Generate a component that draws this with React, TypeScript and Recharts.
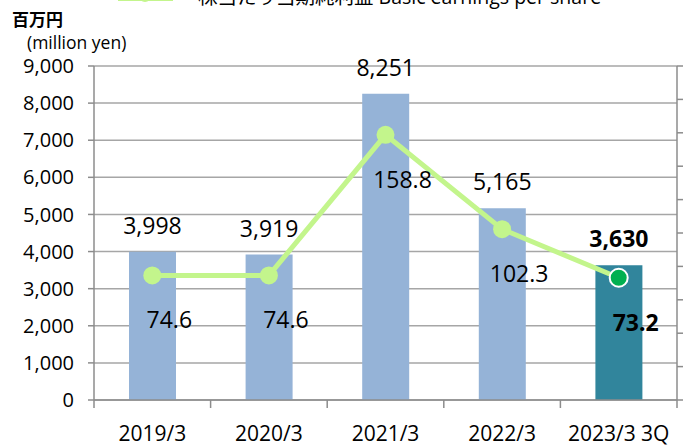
import React from "react";
import { ComposedChart, Bar, Line, XAxis, YAxis, CartesianGrid, Cell } from "recharts";

const categories = ["2019/3", "2020/3", "2021/3", "2022/3", "2023/3 3Q"];
const netIncome = [3998, 3919, 8251, 5165, 3630]; // million yen
const eps = [74.6, 74.6, 158.8, 102.3, 73.2]; // yen per share
const leftTicks = [0, 1000, 2000, 3000, 4000, 5000, 6000, 7000, 8000, 9000];
const rightTicks = [0, 20, 40, 60, 80, 100, 120, 140, 160, 180, 200];

const W = 686;
const H = 446;
const LEFT_W = 94;
const RIGHT_W = 9;
const TOP = 66;
const XAXIS_H = 46;
const BAND = (W - LEFT_W - RIGHT_W) / categories.length;
const PLOT_BOTTOM = H - XAXIS_H;

const FONT = "'Open Sans', 'Noto Sans CJK JP', sans-serif";
const GRAY = "#8c8c8c";
const BLUE = "#95b3d7";
const TEAL = "#31859c";
const LIME = "#c3f58c";
const GREEN = "#00b050";

const data = categories.map((c, i) => ({ name: c, income: netIncome[i], eps: eps[i] }));
const last = categories.length - 1;

function CategoryTick(props: any) {
  const { x, payload, index } = props;
  return (
    <g>
      <line x1={x - BAND / 2} x2={x - BAND / 2} y1={PLOT_BOTTOM} y2={PLOT_BOTTOM + 8} stroke={GRAY} strokeWidth={1.5} />
      {index === last && (
        <line x1={x + BAND / 2} x2={x + BAND / 2} y1={PLOT_BOTTOM} y2={PLOT_BOTTOM + 8} stroke={GRAY} strokeWidth={1.5} />
      )}
      <text x={x} y={PLOT_BOTTOM + 33} textAnchor="middle" dominantBaseline="central" fontSize={21} fill="#000" fontFamily={FONT}>
        {payload.value}
      </text>
    </g>
  );
}

function BarLabel(props: any) {
  const { x, y, width, value, index } = props;
  return (
    <text
      x={x + width / 2}
      y={y - 27}
      textAnchor="middle"
      dominantBaseline="central"
      fontSize={23}
      fontWeight={index === last ? 700 : 400}
      fill="#000"
      fontFamily={FONT}
    >
      {Number(value).toLocaleString("en-US")}
    </text>
  );
}

function EpsLabel(props: any) {
  const { x, y, value, index } = props;
  return (
    <text
      x={x + 17}
      y={y + 44}
      textAnchor="middle"
      dominantBaseline="central"
      fontSize={23}
      fontWeight={index === last ? 700 : 400}
      fill="#000"
      fontFamily={FONT}
    >
      {Number(value).toFixed(1)}
    </text>
  );
}

function EpsDot(props: any) {
  const { cx, cy, index } = props;
  if (index === last) {
    return <circle key={index} cx={cx} cy={cy} r={9} fill={GREEN} stroke="#fff" strokeWidth={2} />;
  }
  return <circle key={index} cx={cx} cy={cy} r={9} fill={LIME} />;
}

export default function App() {
  return (
    <div style={{ position: "absolute", left: 0, top: 0, width: W, height: H, background: "#fff" }}>
      <ComposedChart width={W} height={H} data={data} margin={{ top: TOP, right: 0, bottom: 0, left: 0 }}>
        <CartesianGrid vertical={false} stroke="#a6a6a6" strokeWidth={1.5} yAxisId="left" />
        <XAxis
          dataKey="name"
          height={XAXIS_H}
          axisLine={{ stroke: GRAY, strokeWidth: 1.5 }}
          tickLine={false}
          tick={<CategoryTick />}
          interval={0}
        />
        <YAxis
          yAxisId="left"
          width={LEFT_W}
          domain={[0, 9000]}
          ticks={leftTicks}
          axisLine={{ stroke: GRAY, strokeWidth: 1.5 }}
          tickLine={{ stroke: GRAY, strokeWidth: 1.5 }}
          tickSize={6}
          tickMargin={14}
          tick={{ fontSize: 20, fill: "#000", fontFamily: FONT }}
          tickFormatter={(v: number) => v.toLocaleString("en-US")}
        />
        <YAxis
          yAxisId="right"
          orientation="right"
          width={RIGHT_W}
          domain={[0, 200]}
          ticks={rightTicks}
          axisLine={{ stroke: GRAY, strokeWidth: 1.5 }}
          tickLine={{ stroke: GRAY, strokeWidth: 1.5 }}
          tickSize={6}
          tick={() => <g />}
        />
        <Bar yAxisId="left" dataKey="income" barSize={47} isAnimationActive={false} label={BarLabel}>
          {data.map((d, i) => (
            <Cell key={d.name} fill={i === last ? TEAL : BLUE} />
          ))}
        </Bar>
        <Line
          yAxisId="right"
          dataKey="eps"
          stroke={LIME}
          strokeWidth={5}
          dot={EpsDot}
          activeDot={false}
          isAnimationActive={false}
          label={EpsLabel}
        />
        {/* legend, cut off at the top edge like the source */}
        <line x1={118} x2={173} y1={-1.5} y2={-1.5} stroke={LIME} strokeWidth={5} />
        <circle cx={145} cy={-4} r={6} fill={LIME} />
        <text x={198} y={4} fontSize={19.5} fill="#000" fontFamily={FONT}>
          株当たり当期純利益 Basic earnings per share
        </text>
        <text x={12} y={19} dominantBaseline="central" fontSize={17} fontWeight={700} fill="#000" fontFamily={FONT}>
          百万円
        </text>
        <text x={27} y={42} dominantBaseline="central" fontSize={17.5} fill="#000" fontFamily={FONT}>
          (million yen)
        </text>
      </ComposedChart>
    </div>
  );
}
